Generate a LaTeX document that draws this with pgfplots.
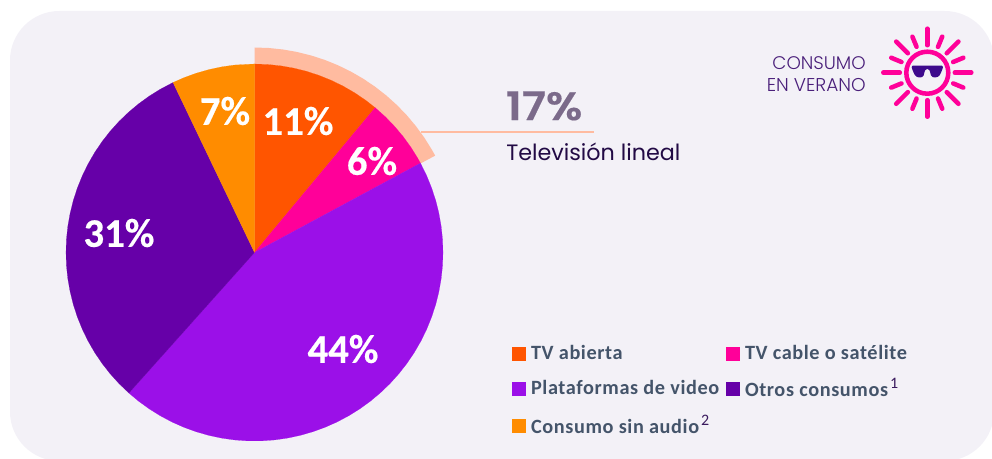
\documentclass[border=0pt]{standalone}
\usepackage{fontspec}
\usepackage{pgfplots}
\pgfplotsset{compat=1.18}
\setmainfont{Carlito}
\newfontfamily\pop{Poppins}
\newfontfamily\popl{Poppins Light}
\newfontfamily\popb{Poppins}[UprightFont=* SemiBold,FakeBold=0.3]
\newfontfamily\leg{Carlito}[LetterSpace=3]
\newfontfamily\lbl{Carlito}[BoldFont=* Bold,BoldFeatures={FakeBold=0.4}]
\definecolor{bg}{HTML}{F3F1F7}
\definecolor{cA}{HTML}{FF5500}
\definecolor{cB}{HTML}{FF0099}
\definecolor{cC}{HTML}{9B10E8}
\definecolor{cD}{HTML}{6600A8}
\definecolor{cE}{HTML}{FF8C00}
\definecolor{ring}{HTML}{FFBBA0}
\definecolor{legt}{HTML}{44546A}
\definecolor{sup}{HTML}{3A1A5E}
\definecolor{pct}{HTML}{7B6A8A}
\definecolor{ink}{HTML}{220A45}
\definecolor{verano}{HTML}{4A1F7A}
\definecolor{glass}{HTML}{3D0A8C}
\begin{document}
\begin{tikzpicture}
\useasboundingbox (0,0) rectangle (744pt,343.5pt);
\begin{scope}[x=0.75pt,y=-0.75pt,shift={(0pt,343.5pt)}]
\clip (0,0) rectangle (992,458);
\fill[bg] (10,11) [rounded corners=37pt] rectangle (994,461);
\end{scope}
\begin{axis}[at={(0pt,0pt)},anchor=south west,scale only axis,width=744pt,height=343.5pt,
  xmin=-254.5,xmax=737.5,ymin=-205.5,ymax=252.5,hide axis,clip=false,
  legend columns=2,legend cell align=left,
  legend style={draw=none,fill=none,at={(axis cs:257.5,-90.5)},anchor=north west,
    font=\fontsize{15.2pt}{17pt}\leg\bfseries\color{legt},
    row sep=8.3pt,inner sep=0pt,outer sep=0pt,
    /tikz/every odd column/.append style={column sep=2.6pt},
    /tikz/every even column/.append style={column sep=3pt}},
  legend image code/.code={\fill[#1] (0pt,-4.8pt) rectangle (9.6pt,4.8pt);}]
% highlight ring, TV total 17%
\addplot[fill=ring,draw=none,forget plot,data cs=polar] coordinates {
(90,205) (86,205) (82,205) (78,205) (74,205) (70,205) (66,205) (62,205) (58,205) (54,205) (50,205) (46,205) (42,205) (38,205) (34,205) (30,205) (28.2,205)
(28.2,188.5) (30,188.5) (34,188.5) (38,188.5) (42,188.5) (46,188.5) (50,188.5) (54,188.5) (58,188.5) (62,188.5) (66,188.5) (70,188.5) (74,188.5) (78,188.5) (82,188.5) (86,188.5) (90,188.5)} -- cycle;
% TV abierta 11%
\addplot[fill=cA,draw=cA,line width=0.1pt,data cs=polar] coordinates {
(0,0) (90,188.5) (86,188.5) (82,188.5) (78,188.5) (74,188.5) (70,188.5) (66,188.5) (62,188.5) (58,188.5) (54,188.5) (50.2,188.5)} -- cycle;
\addlegendentry{TV abierta}
% TV cable 6%
\addplot[fill=cB,draw=cB,line width=0.1pt,data cs=polar] coordinates {
(0,0) (50.2,188.5) (46,188.5) (42,188.5) (38,188.5) (34,188.5) (30,188.5) (28.3,188.5)} -- cycle;
\addlegendentry{TV cable o satélite}
% Plataformas 44%
\addplot[fill=cC,draw=cC,line width=0.1pt,data cs=polar] coordinates {
(0,0) (28.3,188.5) (24,188.5) (20,188.5) (16,188.5) (12,188.5) (8,188.5) (4,188.5) (0,188.5) (-4,188.5) (-8,188.5) (-12,188.5) (-16,188.5) (-20,188.5) (-24,188.5) (-28,188.5) (-32,188.5) (-36,188.5) (-40,188.5) (-44,188.5) (-48,188.5) (-52,188.5) (-56,188.5) (-60,188.5) (-64,188.5) (-68,188.5) (-72,188.5) (-76,188.5) (-80,188.5) (-84,188.5) (-88,188.5) (-92,188.5) (-96,188.5) (-100,188.5) (-104,188.5) (-108,188.5) (-112,188.5) (-116,188.5) (-120,188.5) (-124,188.5) (-128,188.5) (-131.8,188.5)} -- cycle;
\addlegendentry{Plataformas de video}
% Otros 31%
\addplot[fill=cD,draw=cD,line width=0.1pt,data cs=polar] coordinates {
(0,0) (228.2,188.5) (224,188.5) (220,188.5) (216,188.5) (212,188.5) (208,188.5) (204,188.5) (200,188.5) (196,188.5) (192,188.5) (188,188.5) (184,188.5) (180,188.5) (176,188.5) (172,188.5) (168,188.5) (164,188.5) (160,188.5) (156,188.5) (152,188.5) (148,188.5) (144,188.5) (140,188.5) (136,188.5) (132,188.5) (128,188.5) (124,188.5) (120,188.5) (115.6,188.5)} -- cycle;
\addlegendentry{Otros consumos\hspace{1.5pt}\raisebox{0.4em}{\fontsize{12pt}{12pt}\selectfont\mdseries\color{sup}1}}
% Sin audio 7%
\addplot[fill=cE,draw=cE,line width=0.1pt,data cs=polar] coordinates {
(0,0) (115.6,188.5) (112,188.5) (108,188.5) (104,188.5) (100,188.5) (96,188.5) (90,188.5)} -- cycle;
\addlegendentry{Consumo sin audio\hspace{1.5pt}\raisebox{0.4em}{\fontsize{12pt}{12pt}\selectfont\mdseries\color{sup}2}}
\end{axis}
\begin{scope}[x=0.75pt,y=-0.75pt,shift={(0pt,343.5pt)}]
\def\lab#1#2#3{\node[text=white,font=\fontsize{30.5pt}{30pt}\lbl\bfseries,inner sep=0pt] at (#1,#2) {#3};}
\lab{298}{121}{11\%}
\lab{372}{161}{6\%}
\lab{225}{111}{7\%}
\lab{119}{233}{31\%}
\lab{343}{349}{44\%}
\draw[ring,line width=1.5pt] (421,132) -- (594,132);
\node[anchor=base west,inner sep=0pt,text=pct,font=\fontsize{29.5pt}{29pt}\popb,xscale=1.12] at (505.5,120) {17\%};
\node[anchor=base west,inner sep=0pt,text=ink,font=\fontsize{16.7pt}{18pt}\pop] at (506,160) {Televisión lineal};
\node[anchor=base east,inner sep=0pt,text=verano,font=\fontsize{13.7pt}{14pt}\popl] at (866,70) {CONSUMO};
\node[anchor=base east,inner sep=0pt,text=verano,font=\fontsize{13.9pt}{14pt}\popl] at (866,92) {EN VERANO};
% sun
\begin{scope}[shift={(927.3,72.7)}]
\draw[cB,line width=3.4pt] (0,0) circle (21);
\foreach \a in {0,45,...,315} \draw[cB,line width=3.4pt,line cap=round] (\a:27.5) -- (\a:44);
\foreach \a in {22.5,67.5,...,337.5} \draw[cB,line width=3.4pt,line cap=round] (\a:28) -- (\a:39);
\fill[glass,rounded corners=1pt] (-16,-7) -- (16,-7) -- (15,-3) -- (12,3.5) -- (8,5) -- (4,4) -- (2,-3.5) -- (-2,-3.5) -- (-4,4) -- (-8,5) -- (-12,3.5) -- (-15,-3) -- cycle;
\end{scope}
\end{scope}
\end{tikzpicture}
\end{document}
